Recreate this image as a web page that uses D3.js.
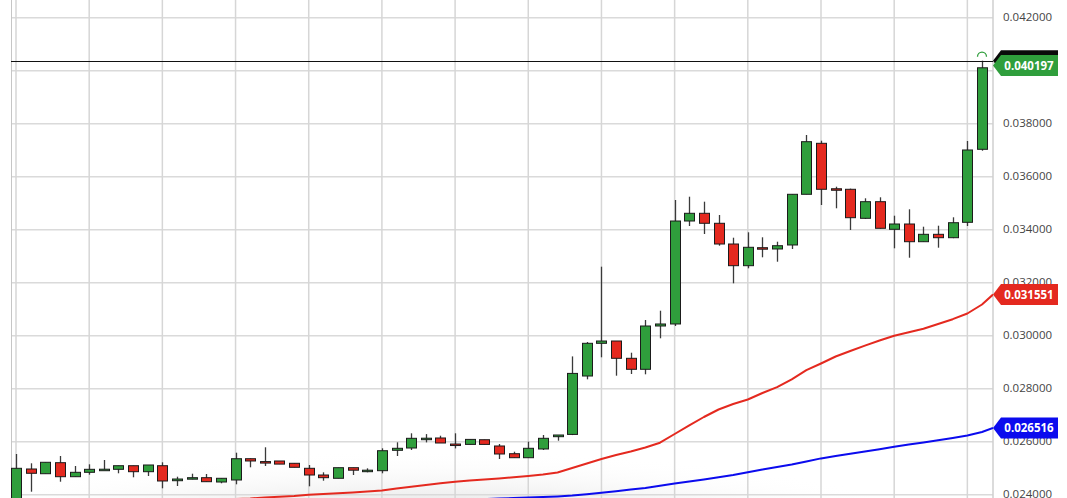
<!DOCTYPE html>
<html><head><meta charset="utf-8">
<script src="https://cdn.jsdelivr.net/npm/d3@7"></script>
<style>body{margin:0;background:#fff;overflow:hidden}svg{display:block}</style>
</head><body>
<svg id="c" width="1067" height="498"></svg>
<script>
// ---- data ----
const candleIndex = d3.range(67);
const opens  = [0.02360,0.02497,0.024792,0.025208,0.024679,0.024845,0.024950,0.024958,0.025094,0.024868,
  0.025094,0.024528,0.024600,0.024642,0.024479,0.024555,0.025358,0.025250,0.025272,0.025185,
  0.024996,0.024743,0.024619,0.025019,0.024915,0.024906,0.025675,0.025762,0.026125,0.026140,
  0.025912,0.025898,0.026075,0.025838,0.025547,0.025396,0.025725,0.026189,0.026275,0.028479,
  0.029713,0.029800,0.029147,0.028732,0.030366,0.030442,0.034328,0.034619,0.034242,0.033460,
  0.032642,0.033321,0.033272,0.033423,0.035336,0.037260,0.035545,0.035525,0.034430,0.035057,
  0.034015,0.034215,0.033547,0.033826,0.033698,0.034279,0.037034];
const highs  = [0.025536,0.025185,0.025223,0.025460,0.025083,0.025147,0.025310,0.025094,0.025094,0.025121,
  0.025223,0.024679,0.024792,0.024781,0.024619,0.025585,0.025370,0.025789,0.025272,0.025185,
  0.025121,0.024845,0.025019,0.025019,0.024996,0.025751,0.025977,0.026317,0.026287,0.026226,
  0.026317,0.026087,0.026075,0.025913,0.025623,0.026000,0.026253,0.026253,0.029219,0.029763,
  0.032604,0.029800,0.029358,0.030592,0.030943,0.035121,0.035245,0.035057,0.034555,0.033698,
  0.033902,0.033713,0.033547,0.035336,0.037574,0.037358,0.035623,0.035550,0.035185,0.035223,
  0.034528,0.034770,0.034113,0.034151,0.034468,0.037347,0.040377];
const lows   = [0.023550,0.024113,0.024792,0.024490,0.024679,0.024755,0.024940,0.024808,0.024657,0.024706,
  0.024242,0.024328,0.024581,0.024491,0.024430,0.024392,0.025034,0.025083,0.025155,0.025034,
  0.024317,0.024528,0.024619,0.024743,0.024845,0.024808,0.025460,0.025687,0.025974,0.025951,
  0.025747,0.025898,0.025898,0.025347,0.025396,0.025396,0.025687,0.026038,0.026250,0.028354,
  0.029185,0.028491,0.028555,0.028543,0.029902,0.030366,0.034140,0.033838,0.033396,0.031977,
  0.032543,0.032958,0.032792,0.033272,0.035336,0.034932,0.034808,0.033989,0.034404,0.034040,
  0.033298,0.032943,0.033547,0.033321,0.033680,0.034140,0.036980];
const closes = [0.024996,0.024808,0.025223,0.024679,0.024845,0.024958,0.024962,0.025094,0.024868,0.025121,
  0.024517,0.024592,0.024642,0.024491,0.024619,0.025358,0.025272,0.025240,0.025155,0.025034,
  0.024743,0.024642,0.025019,0.024925,0.024925,0.025660,0.025751,0.026128,0.026132,0.025951,
  0.025860,0.026087,0.025898,0.025536,0.025396,0.025751,0.026128,0.026253,0.028577,0.029713,
  0.029800,0.029147,0.028732,0.030366,0.030442,0.034328,0.034619,0.034242,0.033460,0.032642,
  0.033336,0.033272,0.033396,0.035336,0.037321,0.035525,0.035535,0.034453,0.035057,0.034053,
  0.034215,0.033547,0.033826,0.033698,0.034264,0.037008,0.040110];
const maRed = [0.023347,0.023385,0.023423,0.023460,0.023479,0.023498,0.023536,0.023574,0.023611,0.023649,
  0.023687,0.023706,0.023743,0.023781,0.023800,0.023838,0.023857,0.023894,0.023925,0.023951,
  0.023996,0.024026,0.024057,0.024087,0.024121,0.024158,0.024234,0.024298,0.024366,0.024430,
  0.024491,0.024536,0.024574,0.024615,0.024660,0.024706,0.024762,0.024838,0.025008,0.025177,
  0.025347,0.025498,0.025630,0.025781,0.025962,0.026291,0.026619,0.026932,0.027215,0.027423,
  0.027592,0.027838,0.028057,0.028355,0.028698,0.028951,0.029215,0.029423,0.029626,0.029819,
  0.029996,0.030132,0.030260,0.030442,0.030623,0.030838,0.031177];
const maBlue = [0.023121,0.023143,0.023166,0.023189,0.023211,0.023234,0.023257,0.023279,0.023302,0.023325,
  0.023347,0.023370,0.023392,0.023415,0.023438,0.023460,0.023483,0.023506,0.023528,0.023551,
  0.023574,0.023596,0.023619,0.023642,0.023664,0.023687,0.023706,0.023725,0.023747,0.023770,
  0.023789,0.023811,0.023834,0.023853,0.023875,0.023894,0.023913,0.023936,0.023966,0.024015,
  0.024075,0.024132,0.024192,0.024257,0.024336,0.024419,0.024498,0.024577,0.024660,0.024743,
  0.024849,0.024947,0.025045,0.025136,0.025253,0.025370,0.025460,0.025547,0.025634,0.025717,
  0.025808,0.025891,0.025974,0.026053,0.026140,0.026234,0.026366];
const lastPrice = 0.040197;
const lastRed = 0.031551;
const lastBlue = 0.026516;
const yTicks = [0.024,0.026,0.028,0.030,0.032,0.034,0.036,0.038,0.040,0.042];
const xGridEvery = 5;

// ---- style ----
const GREEN = "#2f9e3c", RED = "#e4291f", BLUE = "#0b0bee";
const W = 1067, H = 498, plotL = 11, plotR = 993;
const x = d3.scaleLinear().domain([0, 66]).range([16, 982]);
const y = d3.scaleLinear().domain([0.024, 0.042]).range([494.7, 17.7]);

const svg = d3.select("#c");
const defs = svg.append("defs");
const rg = defs.append("radialGradient").attr("id", "shade");
rg.append("stop").attr("offset", "0").attr("stop-color", "#d8d8d8");
rg.append("stop").attr("offset", "0.55").attr("stop-color", "#ebebeb");
rg.append("stop").attr("offset", "1").attr("stop-color", "#ffffff").attr("stop-opacity", 0);
defs.append("clipPath").attr("id", "plot").append("rect")
  .attr("x", plotL).attr("y", 0).attr("width", plotR - plotL).attr("height", H);

svg.append("rect").attr("width", W).attr("height", H).attr("fill", "#fff");
svg.append("ellipse").attr("cx", 430).attr("cy", 565).attr("rx", 580).attr("ry", 115)
  .attr("fill", "url(#shade)").attr("clip-path", "url(#plot)");

// grid
const grid = svg.append("g");
grid.selectAll(".hg").data(yTicks).join("line")
  .attr("x1", plotL).attr("x2", plotR).attr("y1", d => y(d)).attr("y2", d => y(d))
  .attr("stroke", "#dadada").attr("stroke-width", 1.5);
grid.selectAll(".vg").data(candleIndex.filter(i => i % xGridEvery === 0)).join("line")
  .attr("x1", d => x(d)).attr("x2", d => x(d)).attr("y1", 0).attr("y2", H)
  .attr("stroke", "#d6d6d6").attr("stroke-width", 1.5);
grid.append("line").attr("x1", plotL + 0.5).attr("x2", plotL + 0.5).attr("y1", 0).attr("y2", H)
  .attr("stroke", "#c6c6c6").attr("stroke-width", 1);
grid.append("line").attr("x1", plotR).attr("x2", plotR).attr("y1", 0).attr("y2", H)
  .attr("stroke", "#cfcfcf").attr("stroke-width", 1.5);

// moving averages
const plotG = svg.append("g").attr("clip-path", "url(#plot)");
function maLine(vals, last, color) {
  const pts = vals.map((v, i) => [x(i), y(v)]).concat([[plotR, y(last)]]);
  plotG.append("path").attr("d", d3.line()(pts)).attr("fill", "none")
    .attr("stroke", color).attr("stroke-width", 2).attr("stroke-linejoin", "round");
}
maLine(maRed, lastRed, RED);
maLine(maBlue, lastBlue, BLUE);

// high line
const lastHigh = highs[highs.length - 1];
svg.append("line").attr("x1", plotL).attr("x2", plotR)
  .attr("y1", Math.round(y(lastHigh)) + 0.5).attr("y2", Math.round(y(lastHigh)) + 0.5)
  .attr("stroke", "#111").attr("stroke-width", 1);

// candles
const cg = plotG.append("g");
cg.selectAll(".w").data(candleIndex).join("line")
  .attr("x1", i => Math.round(x(i)) + 0.5).attr("x2", i => Math.round(x(i)) + 0.5)
  .attr("y1", i => y(highs[i])).attr("y2", i => y(lows[i]))
  .attr("stroke", "#3a3a3a").attr("stroke-width", 1.3);
cg.selectAll(".b").data(candleIndex).join("rect")
  .attr("x", i => Math.round(x(i)) - 4.5)
  .attr("width", 10)
  .attr("y", i => y(Math.max(opens[i], closes[i])))
  .attr("height", i => Math.max(1.5, Math.abs(y(opens[i]) - y(closes[i]))))
  .attr("fill", i => closes[i] >= opens[i] ? GREEN : RED)
  .attr("stroke", "#1b1b1b").attr("stroke-width", 1);

// arc marker above last candle
const li = candleIndex.length - 1;
svg.append("path")
  .attr("d", `M${x(li) - 4.5},${y(lastHigh) - 4} A4.5,4.5 0 0 1 ${x(li) + 4.5},${y(lastHigh) - 4}`)
  .attr("fill", "none").attr("stroke", GREEN).attr("stroke-width", 1.3);

// axis labels
svg.append("g").selectAll("text").data(yTicks).join("text")
  .attr("x", 1003).attr("y", d => y(d)).attr("dy", "0.3em")
  .attr("font-family", "'Open Sans', sans-serif").attr("font-size", 11.5).attr("fill", "#444")
  .text(d => d3.format(".6f")(d));

// badges
function badge(v, fill, txt) {
  const yc = y(v), h = 10.5;
  const g = svg.append("g");
  g.append("path").attr("d",
    `M${plotR},${yc} L${plotR + 8},${yc - h} L1058,${yc - h} L1058,${yc + h} L${plotR + 8},${yc + h} Z`)
    .attr("fill", fill);
  if (txt) g.append("text").attr("x", 1029).attr("y", yc).attr("dy", "0.36em")
    .attr("text-anchor", "middle").attr("font-family", "'Open Sans', sans-serif")
    .attr("font-weight", "bold").attr("font-size", 11.5).attr("fill", "#fff").text(txt);
}
const fmt = d3.format(".6f");
badge(lastHigh, "#0a0a0a", null);
badge(lastPrice, GREEN, fmt(lastPrice));
badge(lastRed, RED, fmt(lastRed));
badge(lastBlue, BLUE, fmt(lastBlue));
</script>
</body></html>
